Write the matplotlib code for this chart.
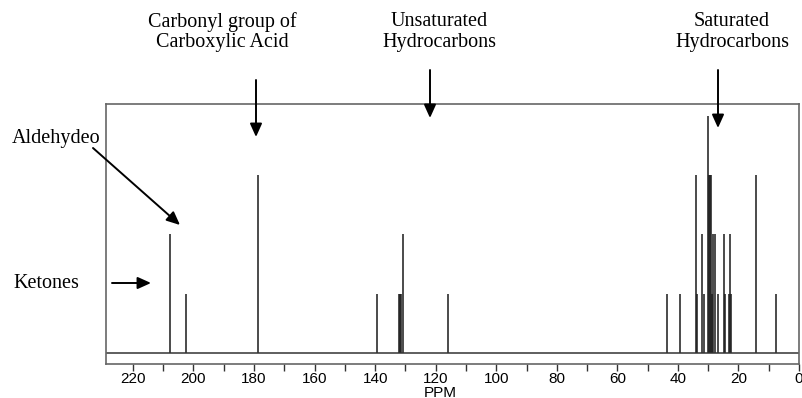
import matplotlib.pyplot as plt
from matplotlib.patches import FancyArrowPatch
import numpy as np

# peak positions (ppm) and relative heights
peak_ppm = [207.9, 202.4, 178.6,
            139.3, 132.2, 131.9, 131.5, 130.7, 115.9,
            43.7, 39.4, 34.0, 33.6, 32.0, 31.5, 30.0, 29.8, 29.5, 29.2,
            28.7, 28.3, 27.8, 26.7, 24.8, 24.3, 23.1, 22.8, 22.5, 14.3, 7.7]
peak_height = [2, 1, 3,
               1, 1, 1, 1, 2, 1,
               1, 1, 3, 1, 2, 1, 4, 3, 3, 3,
               1, 2, 2, 1, 2, 1, 1, 2, 1, 3, 1]

major_ticks = np.arange(0, 221, 20)
minor_ticks = np.arange(10, 221, 20)

W, H = 803, 398

def px(x, y):
    # pixel position (from top-left) -> figure fraction
    return (x / W, 1 - y / H)

fig = plt.figure(figsize=(W / 100, H / 100), dpi=100)
ax = fig.add_axes([106 / W, 1 - 364 / H, (799 - 106) / W, (364 - 104) / H])

ax.vlines(peak_ppm, 0, peak_height, color='#1a1a1a', lw=1.1)
ax.axhline(0, color='#333333', lw=1.1)

ax.set_xlim(228.9, 0.4)
ax.set_ylim(-0.19, 4.2)
ax.set_yticks([])
ax.set_xticks(major_ticks)
ax.set_xticks(minor_ticks, minor=True)
ax.tick_params(axis='x', which='both', direction='out', length=5, width=1.0,
               color='#333333', labelsize=11, pad=0.5)
for lab in ax.get_xticklabels():
    lab.set_family('Liberation Sans')
for sp in ax.spines.values():
    sp.set_color('#666666')
    sp.set_linewidth(1.2)

fig.text(*px(440, 393), 'PPM', ha='center', va='center',
         family='Liberation Sans', fontsize=11)

serif = dict(family='Liberation Serif', fontsize=14.5, ha='center', va='center',
             linespacing=1.1)
fig.text(*px(222, 32), 'Carbonyl group of\nCarboxylic Acid', **serif)
fig.text(*px(439, 32), 'Unsaturated\nHydrocarbons', **serif)
fig.text(*px(732, 32), 'Saturated\nHydrocarbons', **serif)
fig.text(*px(56, 138), 'Aldehydeo', **serif)
fig.text(*px(46, 283), 'Ketones', **serif)

arrows = [((256, 80), (256, 137)),
          ((430, 70), (430, 118)),
          ((718, 70), (718, 128)),
          ((93, 148), (180, 225)),
          ((112, 283), (151, 283))]
for start, end in arrows:
    fig.add_artist(FancyArrowPatch(
        px(*start), px(*end), transform=fig.transFigure,
        arrowstyle='-|>,head_length=1.0,head_width=0.45', mutation_scale=8,
        color='black', lw=1.4, shrinkA=0, shrinkB=0))

fig.savefig('out.png', dpi=100)
